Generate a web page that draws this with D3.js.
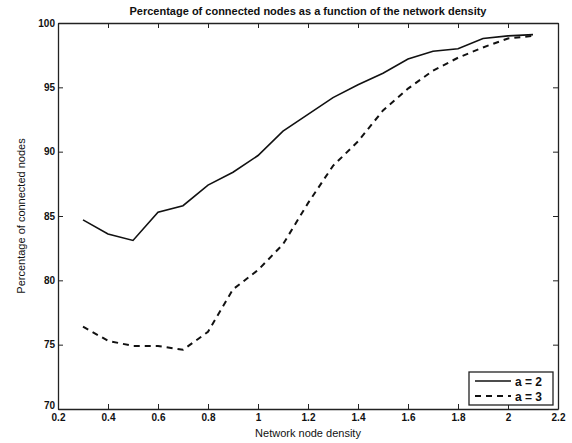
<!DOCTYPE html>
<html>
<head>
<meta charset="utf-8">
<script src="https://cdn.jsdelivr.net/npm/d3@7"></script>
<style>
  body { margin: 0; background: #fff; }
  svg text { font-family: "Liberation Sans", Arial, sans-serif; fill: #111; }
</style>
</head>
<body>
<div id="chart"></div>
<script>
// network node density values
const density = [0.3, 0.4, 0.5, 0.6, 0.7, 0.8, 0.9, 1.0, 1.1, 1.2, 1.3, 1.4, 1.5, 1.6, 1.7, 1.8, 1.9, 2.0, 2.1];
// percentage of connected nodes, a = 2
const connectedA2 = [84.7, 83.6, 83.1, 85.3, 85.8, 87.4, 88.4, 89.7, 91.6, 92.9, 94.2, 95.2, 96.1, 97.2, 97.8, 98.0, 98.8, 99.0, 99.1];
// percentage of connected nodes, a = 3
const connectedA3 = [76.4, 75.3, 74.9, 74.9, 74.6, 76.0, 79.3, 80.8, 82.8, 86.0, 88.9, 90.8, 93.2, 94.9, 96.3, 97.3, 98.1, 98.8, 99.0];
const xTicks = [0.2, 0.4, 0.6, 0.8, 1, 1.2, 1.4, 1.6, 1.8, 2, 2.2];
const yTicks = [70, 75, 80, 85, 90, 95, 100];
const seriesNames = ["a = 2", "a = 3"];

const width = 572, height = 443;
const margin = { top: 23, right: 14, bottom: 34, left: 58 };

const svg = d3.select('#chart').append('svg')
  .attr('width', width)
  .attr('height', height);

const x = d3.scaleLinear().domain([0.2, 2.2]).range([margin.left, width - margin.right]);
const y = d3.scaleLinear().domain([70, 100]).range([height - margin.bottom, margin.top]);

const fmt = d => String(d);

// axes, ticks pointing inward like matlab
svg.append('g')
  .attr('class', 'x-axis')
  .attr('transform', `translate(0,${height - margin.bottom})`)
  .call(d3.axisBottom(x).tickValues(xTicks).tickFormat(fmt).tickSizeInner(-5).tickSizeOuter(0).tickPadding(5));
svg.append('g')
  .attr('transform', `translate(0,${margin.top})`)
  .call(d3.axisTop(x).tickValues(xTicks).tickFormat('').tickSizeInner(-5).tickSizeOuter(0));
svg.append('g')
  .attr('class', 'y-axis')
  .attr('transform', `translate(${margin.left},0)`)
  .call(d3.axisLeft(y).tickValues(yTicks).tickFormat(fmt).tickSizeInner(-5).tickSizeOuter(0).tickPadding(3));
svg.append('g')
  .attr('transform', `translate(${width - margin.right},0)`)
  .call(d3.axisRight(y).tickValues(yTicks).tickFormat('').tickSizeInner(-5).tickSizeOuter(0));

svg.selectAll('.domain').attr('stroke', '#222').attr('stroke-width', 1.3);
svg.selectAll('.tick line').attr('stroke', '#222').attr('stroke-width', 1);
svg.selectAll('.tick text').style('font-size', '10px').style('font-weight', 'bold').attr('fill', '#222');
// "70" sits just above "0.2" as in the original
svg.selectAll('.y-axis .tick text').filter(d => d === 70).attr('dy', '-0.05em');

// lines
const line = d3.line().x(d => x(d[0])).y(d => y(d[1]));
svg.append('path')
  .datum(density.map((d, i) => [d, connectedA2[i]]))
  .attr('d', line)
  .attr('fill', 'none')
  .attr('stroke', '#111')
  .attr('stroke-width', 1.6);
svg.append('path')
  .datum(density.map((d, i) => [d, connectedA3[i]]))
  .attr('d', line)
  .attr('fill', 'none')
  .attr('stroke', '#111')
  .attr('stroke-width', 2)
  .attr('stroke-dasharray', '6,5');

// title and labels
svg.append('text')
  .attr('x', (margin.left + width - margin.right) / 2)
  .attr('y', 15)
  .attr('text-anchor', 'middle')
  .style('font-size', '11px')
  .style('font-weight', 'bold')
  .text('Percentage of connected nodes as a function of the network density');

svg.append('text')
  .attr('x', (margin.left + width - margin.right) / 2)
  .attr('y', 437)
  .attr('text-anchor', 'middle')
  .style('font-size', '11px')
  .text('Network node density');

svg.append('text')
  .attr('transform', `translate(25,${(margin.top + height - margin.bottom) / 2}) rotate(-90)`)
  .attr('text-anchor', 'middle')
  .style('font-size', '11px')
  .text('Percentage of connected nodes');

// legend
const lg = svg.append('g').attr('transform', 'translate(469,372)');
lg.append('rect')
  .attr('width', 84).attr('height', 33)
  .attr('fill', '#fff').attr('stroke', '#222').attr('stroke-width', 1.3);
const rows = lg.selectAll('.row').data(seriesNames).enter().append('g')
  .attr('transform', (d, i) => `translate(0,${9 + i * 15})`);
rows.append('line')
  .attr('x1', 6).attr('x2', 42).attr('y1', 0).attr('y2', 0)
  .attr('stroke', '#111')
  .attr('stroke-width', (d, i) => i === 0 ? 1.6 : 2)
  .attr('stroke-dasharray', (d, i) => i === 0 ? null : '6,5');
rows.append('text')
  .attr('x', 46).attr('y', 4.5)
  .style('font-size', '12px')
  .style('font-weight', 'bold')
  .text(d => d);
</script>
</body>
</html>
